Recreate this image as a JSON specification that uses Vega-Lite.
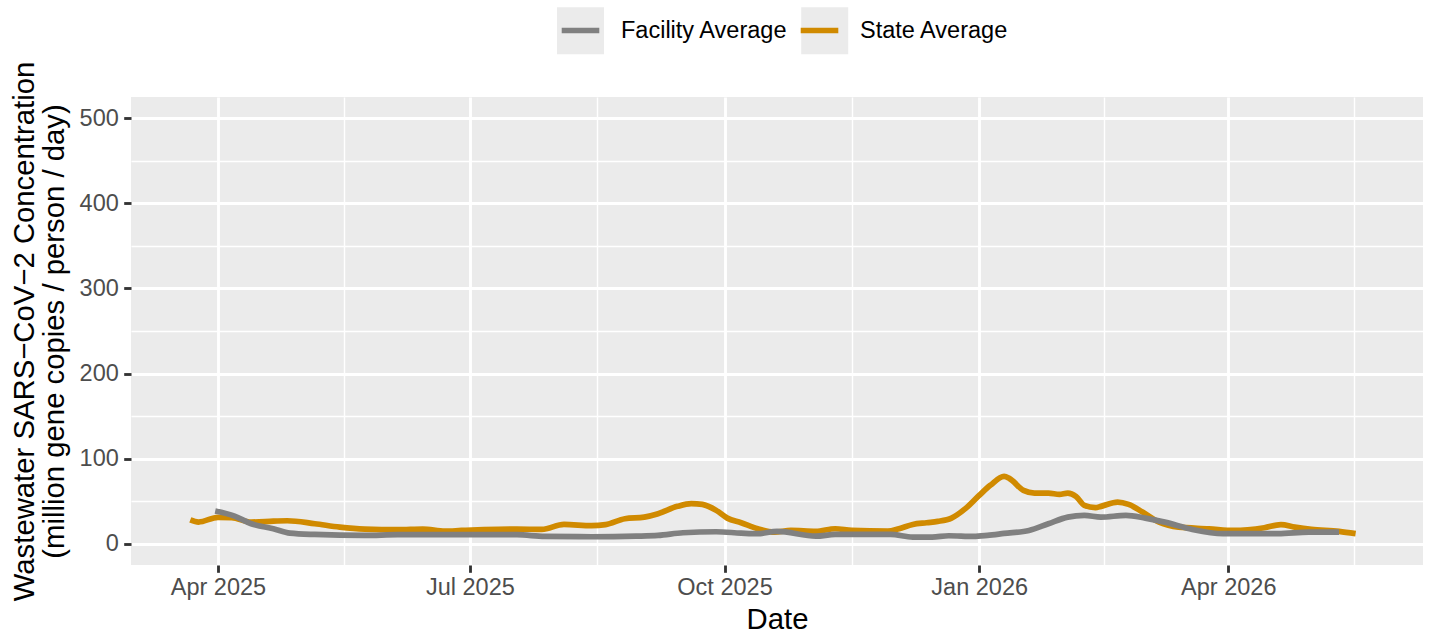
{
  "$schema": "https://vega.github.io/schema/vega-lite/v6.json",
  "width": 1292,
  "height": 468,
  "autosize": {"type": "none"},
  "padding": {"left": 131, "top": 97, "right": 7, "bottom": 69},
  "background": "white",
  "config": {
    "font": "Liberation Sans",
    "view": {"fill": "#EBEBEB", "stroke": null},
    "axis": {
      "domain": false,
      "gridColor": "white",
      "tickColor": "#333333",
      "tickWidth": 2.85,
      "tickSize": 7.3,
      "labelFont": "Liberation Sans",
      "labelFontSize": 23.5,
      "labelColor": "#4D4D4D",
      "titleFont": "Liberation Sans",
      "titleFontSize": 29.3,
      "titleFontWeight": "normal",
      "titleColor": "black",
      "labelOverlap": false,
      "labelFlush": false
    }
  },
  "layer": [
    {
      "data": {"values": [{"key": "Facility Average"}, {"key": "State Average"}]},
      "mark": {"type": "square", "filled": true, "opacity": 0},
      "encoding": {
        "color": {
          "field": "key",
          "type": "nominal",
          "scale": {"range": ["#EBEBEB", "#EBEBEB"]},
          "legend": {
            "orient": "none",
            "legendX": 423,
            "legendY": -93,
            "direction": "horizontal",
            "title": null,
            "padding": 0,
            "symbolType": "square",
            "symbolSize": 2209,
            "symbolStrokeWidth": 5.7,
            "symbolStrokeColor": "transparent",
            "symbolOpacity": 1,
            "labelFont": "Liberation Sans",
            "labelFontSize": 23.5,
            "labelExpr": "''",
            "labelOffset": 14,
            "columnPadding": 168.2,
            "zindex": 0
          }
        }
      }
    },
    {
      "data": {
        "values": [
          {"date": "2025-03-22", "series": "State Average", "value": 28},
          {"date": "2025-03-25", "series": "State Average", "value": 25.5},
          {"date": "2025-04-01", "series": "State Average", "value": 31},
          {"date": "2025-04-06", "series": "State Average", "value": 30.5},
          {"date": "2025-04-13", "series": "State Average", "value": 25.5},
          {"date": "2025-04-21", "series": "State Average", "value": 26.5},
          {"date": "2025-04-26", "series": "State Average", "value": 27},
          {"date": "2025-05-06", "series": "State Average", "value": 23.5},
          {"date": "2025-05-15", "series": "State Average", "value": 19.5},
          {"date": "2025-05-24", "series": "State Average", "value": 17.2},
          {"date": "2025-06-05", "series": "State Average", "value": 16.5},
          {"date": "2025-06-14", "series": "State Average", "value": 17.2},
          {"date": "2025-06-22", "series": "State Average", "value": 14.8},
          {"date": "2025-06-28", "series": "State Average", "value": 15.6},
          {"date": "2025-07-06", "series": "State Average", "value": 16.5},
          {"date": "2025-07-18", "series": "State Average", "value": 17.2},
          {"date": "2025-07-27", "series": "State Average", "value": 16.8},
          {"date": "2025-08-04", "series": "State Average", "value": 22.7},
          {"date": "2025-08-14", "series": "State Average", "value": 21.2},
          {"date": "2025-08-19", "series": "State Average", "value": 22.4},
          {"date": "2025-08-26", "series": "State Average", "value": 29.4},
          {"date": "2025-09-02", "series": "State Average", "value": 31.3},
          {"date": "2025-09-07", "series": "State Average", "value": 35.3},
          {"date": "2025-09-14", "series": "State Average", "value": 43.9},
          {"date": "2025-09-19", "series": "State Average", "value": 47.1},
          {"date": "2025-09-23", "series": "State Average", "value": 46.2},
          {"date": "2025-09-28", "series": "State Average", "value": 39.2},
          {"date": "2025-10-02", "series": "State Average", "value": 30.1},
          {"date": "2025-10-07", "series": "State Average", "value": 24.7},
          {"date": "2025-10-13", "series": "State Average", "value": 17.6},
          {"date": "2025-10-19", "series": "State Average", "value": 13.7},
          {"date": "2025-10-25", "series": "State Average", "value": 15.6},
          {"date": "2025-11-03", "series": "State Average", "value": 14.5},
          {"date": "2025-11-10", "series": "State Average", "value": 17.6},
          {"date": "2025-11-16", "series": "State Average", "value": 15.6},
          {"date": "2025-11-29", "series": "State Average", "value": 14.8},
          {"date": "2025-12-03", "series": "State Average", "value": 17.6},
          {"date": "2025-12-08", "series": "State Average", "value": 22.7},
          {"date": "2025-12-13", "series": "State Average", "value": 24.7},
          {"date": "2025-12-17", "series": "State Average", "value": 26.2},
          {"date": "2025-12-22", "series": "State Average", "value": 30.1},
          {"date": "2025-12-27", "series": "State Average", "value": 41.2},
          {"date": "2026-01-01", "series": "State Average", "value": 56.8},
          {"date": "2026-01-05", "series": "State Average", "value": 68.6},
          {"date": "2026-01-10", "series": "State Average", "value": 79.2},
          {"date": "2026-01-12", "series": "State Average", "value": 76.5},
          {"date": "2026-01-17", "series": "State Average", "value": 62.7},
          {"date": "2026-01-21", "series": "State Average", "value": 59.5},
          {"date": "2026-01-26", "series": "State Average", "value": 59.5},
          {"date": "2026-01-30", "series": "State Average", "value": 58},
          {"date": "2026-02-02", "series": "State Average", "value": 59.5},
          {"date": "2026-02-05", "series": "State Average", "value": 55.6},
          {"date": "2026-02-08", "series": "State Average", "value": 45},
          {"date": "2026-02-12", "series": "State Average", "value": 42.4},
          {"date": "2026-02-14", "series": "State Average", "value": 43.9},
          {"date": "2026-02-20", "series": "State Average", "value": 49},
          {"date": "2026-02-24", "series": "State Average", "value": 46.2},
          {"date": "2026-03-01", "series": "State Average", "value": 37.2},
          {"date": "2026-03-07", "series": "State Average", "value": 25.4},
          {"date": "2026-03-14", "series": "State Average", "value": 19.5},
          {"date": "2026-03-25", "series": "State Average", "value": 17.6},
          {"date": "2026-04-03", "series": "State Average", "value": 15.6},
          {"date": "2026-04-14", "series": "State Average", "value": 18.8},
          {"date": "2026-04-20", "series": "State Average", "value": 22.4},
          {"date": "2026-04-25", "series": "State Average", "value": 19.5},
          {"date": "2026-05-01", "series": "State Average", "value": 16.8},
          {"date": "2026-05-11", "series": "State Average", "value": 14.5},
          {"date": "2026-05-17", "series": "State Average", "value": 11.8},
          {"date": "2025-03-31", "series": "Facility Average", "value": 38.5},
          {"date": "2025-04-07", "series": "Facility Average", "value": 32.5},
          {"date": "2025-04-13", "series": "Facility Average", "value": 23.5},
          {"date": "2025-04-21", "series": "Facility Average", "value": 17.6},
          {"date": "2025-04-27", "series": "Facility Average", "value": 12.5},
          {"date": "2025-05-06", "series": "Facility Average", "value": 10.9},
          {"date": "2025-05-24", "series": "Facility Average", "value": 9.8},
          {"date": "2025-06-05", "series": "Facility Average", "value": 10.6},
          {"date": "2025-06-28", "series": "Facility Average", "value": 10.6},
          {"date": "2025-07-18", "series": "Facility Average", "value": 10.6},
          {"date": "2025-07-28", "series": "Facility Average", "value": 8.6},
          {"date": "2025-08-14", "series": "Facility Average", "value": 8.2},
          {"date": "2025-08-30", "series": "Facility Average", "value": 8.9},
          {"date": "2025-09-07", "series": "Facility Average", "value": 9.8},
          {"date": "2025-09-16", "series": "Facility Average", "value": 12.9},
          {"date": "2025-09-28", "series": "Facility Average", "value": 14.1},
          {"date": "2025-10-07", "series": "Facility Average", "value": 12.5},
          {"date": "2025-10-13", "series": "Facility Average", "value": 11.8},
          {"date": "2025-10-20", "series": "Facility Average", "value": 14.5},
          {"date": "2025-11-03", "series": "Facility Average", "value": 8.9},
          {"date": "2025-11-10", "series": "Facility Average", "value": 10.9},
          {"date": "2025-11-30", "series": "Facility Average", "value": 10.9},
          {"date": "2025-12-08", "series": "Facility Average", "value": 7.8},
          {"date": "2025-12-15", "series": "Facility Average", "value": 7.8},
          {"date": "2025-12-21", "series": "Facility Average", "value": 9.4},
          {"date": "2025-12-30", "series": "Facility Average", "value": 8.6},
          {"date": "2026-01-04", "series": "Facility Average", "value": 9.8},
          {"date": "2026-01-10", "series": "Facility Average", "value": 12.1},
          {"date": "2026-01-19", "series": "Facility Average", "value": 15.6},
          {"date": "2026-01-26", "series": "Facility Average", "value": 23.5},
          {"date": "2026-02-02", "series": "Facility Average", "value": 31.3},
          {"date": "2026-02-08", "series": "Facility Average", "value": 33.3},
          {"date": "2026-02-14", "series": "Facility Average", "value": 31.3},
          {"date": "2026-02-23", "series": "Facility Average", "value": 33.3},
          {"date": "2026-03-02", "series": "Facility Average", "value": 30.1},
          {"date": "2026-03-09", "series": "Facility Average", "value": 25.4},
          {"date": "2026-03-19", "series": "Facility Average", "value": 16.8},
          {"date": "2026-03-30", "series": "Facility Average", "value": 11.8},
          {"date": "2026-04-19", "series": "Facility Average", "value": 11.8},
          {"date": "2026-04-30", "series": "Facility Average", "value": 13.7},
          {"date": "2026-05-11", "series": "Facility Average", "value": 13.7}
        ]
      },
      "encoding": {
        "x": {
          "field": "date",
          "type": "temporal",
          "title": "Date",
          "scale": {
            "type": "utc",
            "domain": [
              {"year": 2025, "month": 2, "date": 28, "hours": 14, "utc": true},
              {"year": 2026, "month": 6, "date": 10, "hours": 8, "utc": true}
            ]
          },
          "axis": {
            "values": [
              {"year": 2025, "month": 4, "date": 1, "utc": true},
              {"year": 2025, "month": 5, "date": 16, "hours": 12, "utc": true},
              {"year": 2025, "month": 7, "date": 1, "utc": true},
              {"year": 2025, "month": 8, "date": 16, "utc": true},
              {"year": 2025, "month": 10, "date": 1, "utc": true},
              {"year": 2025, "month": 11, "date": 16, "utc": true},
              {"year": 2026, "month": 1, "date": 1, "utc": true},
              {"year": 2026, "month": 2, "date": 15, "utc": true},
              {"year": 2026, "month": 4, "date": 1, "utc": true},
              {"year": 2026, "month": 5, "date": 16, "hours": 12, "utc": true}
            ],
            "labelExpr": "utcdate(datum.value) == 1 ? utcFormat(datum.value, '%b %Y') : ''",
            "gridWidth": {"condition": {"test": "utcdate(datum.value) == 1", "value": 2.85}, "value": 1.42},
            "tickOpacity": {"condition": {"test": "utcdate(datum.value) == 1", "value": 1}, "value": 0},
            "labelPadding": 3,
            "titleBaseline": "alphabetic",
            "titleY": 63
          }
        },
        "y": {
          "field": "value",
          "type": "quantitative",
          "title": ["Wastewater SARS−CoV−2 Concentration", "(million gene copies / person / day)"],
          "scale": {"domain": [-25, 525], "nice": false, "zero": false},
          "axis": {
            "values": [0, 50, 100, 150, 200, 250, 300, 350, 400, 450, 500],
            "labelExpr": "datum.value % 100 == 0 ? datum.label : ''",
            "gridWidth": {"condition": {"test": "datum.value % 100 == 0", "value": 2.85}, "value": 1.42},
            "tickOpacity": {"condition": {"test": "datum.value % 100 == 0", "value": 1}, "value": 0},
            "labelPadding": 5.4,
            "titleBaseline": "alphabetic",
            "titleLineHeight": 30,
            "titleX": -98,
            "titleY": 234
          }
        },
        "stroke": {
          "field": "series",
          "type": "nominal",
          "scale": {"domain": ["Facility Average", "State Average"], "range": ["#808080", "#D08A00"]},
          "legend": {
            "orient": "none",
            "legendX": 423,
            "legendY": -93,
            "direction": "horizontal",
            "title": null,
            "padding": 0,
            "symbolType": "M-0.8,0H0.8",
            "symbolSize": 2209,
            "symbolStrokeWidth": 5.7,
            "labelFont": "Liberation Sans",
            "labelFontSize": 23.5,
            "labelColor": "black",
            "labelLimit": 400,
            "labelOffset": 14,
            "columnPadding": 1,
            "zindex": 1
          }
        }
      },
      "layer": [
        {
          "transform": [{"filter": "datum.series == 'State Average'"}],
          "mark": {"type": "line", "strokeWidth": 5.7, "interpolate": "monotone", "strokeCap": "butt", "strokeJoin": "round"}
        },
        {
          "transform": [{"filter": "datum.series == 'Facility Average'"}],
          "mark": {"type": "line", "strokeWidth": 5.7, "interpolate": "monotone", "strokeCap": "butt", "strokeJoin": "round"}
        }
      ]
    }
  ]
}
